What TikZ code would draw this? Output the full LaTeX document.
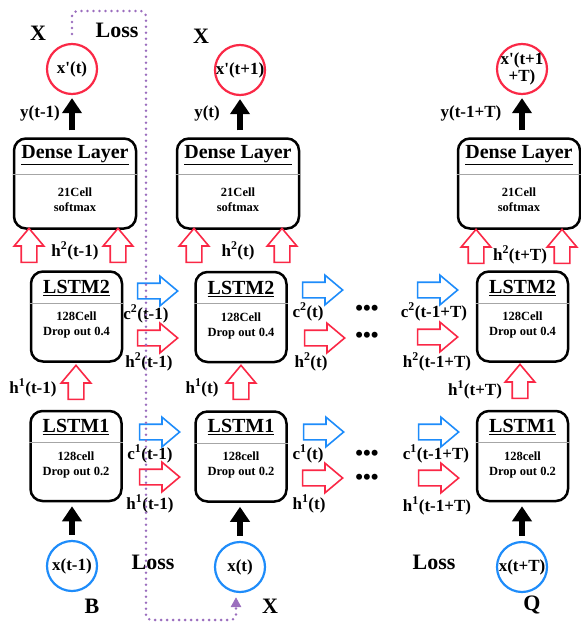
\documentclass[tikz,border=0pt]{standalone}
\usepackage{fontspec}
\setmainfont{Liberation Serif}
\usetikzlibrary{positioning}
\usetikzlibrary{arrows.meta}
\usetikzlibrary{calc}
\usetikzlibrary{shapes.arrows}

\definecolor{cellred}{RGB}{250,40,70}
\definecolor{cellblue}{RGB}{30,140,250}
\definecolor{losspurple}{RGB}{155,110,190}

\begin{document}
\begin{tikzpicture}[
        x=1pt, y=-1pt,
        every node/.style={font=\bfseries},
        layerbox/.style={draw, line width=2.5pt, rounded corners=12pt, minimum height=90pt},
        boxhead/.style={font=\bfseries\fontsize{20}{22}\selectfont},
        boxbody/.style={align=center, font=\bfseries\fontsize{12.5}{15}\selectfont},
        incirc/.style={circle, draw=cellblue, line width=2.2pt, minimum size=50pt, inner sep=-4pt, font=\bfseries\fontsize{17}{17}\selectfont},
        outcirc/.style={incirc, draw=cellred},
        flow/.style={single arrow, draw=#1, line width=1.6pt, fill=white, inner xsep=0pt, inner ysep=7pt,
            single arrow head extend=7pt, single arrow tip angle=80, minimum height=40pt},
        upflow/.style={flow=cellred, minimum height=34pt, rotate=90},
        feed/.style={line width=6pt, -{Triangle[width=19pt,length=15pt]}},
        flowlabel/.style={font=\bfseries\fontsize{17}{19}\selectfont},
        bigtag/.style={font=\bfseries\fontsize{22}{24}\selectfont},
        dotrow/.style={font=\bfseries\fontsize{22}{24}\selectfont},
        lossline/.style={losspurple, line width=2.8pt, line cap=round, dash pattern=on 0pt off 6pt,
            rounded corners=5pt, -{Triangle[width=10pt,length=10pt]}}
    ]

        \useasboundingbox (0,0) rectangle (581,624);

        % Dense layers
        \node[layerbox, minimum width=122pt] (dense1) at (75,183.5) {};
        \node[layerbox, minimum width=122pt] (dense2) at (238,183.5) {};
        \node[layerbox, minimum width=122pt] (dense3) at (519,183.5) {};
        \foreach \n in {1,2,3} {
            \draw[gray!70, line width=0.6pt] ($(dense\n.north west)+(0,37)$) -- ($(dense\n.north east)+(0,37)$);
            \node[boxhead] (dhead\n) at ($(dense\n.north)+(0,18)$) {\underline{Dense Layer}};
            \node[boxbody] (dbody\n) at ($(dense\n.north)+(0,62)$) {21Cell\\softmax};
        }

        % LSTM2
        \node[layerbox, minimum width=91pt] (lstm2a) at (76.5,316.5) {};
        \node[layerbox, minimum width=91pt] (lstm2b) at (241,317) {};
        \node[layerbox, minimum width=91pt] (lstm2c) at (522.5,316.5) {};
        \foreach \n in {a,b,c} {
            \draw[gray!70, line width=0.6pt] ($(lstm2\n.north west)+(0,33)$) -- ($(lstm2\n.north east)+(0,33)$);
            \node[boxhead] (l2head\n) at ($(lstm2\n.north)+(0,18)$) {\underline{LSTM2}};
            \node[boxbody] (l2body\n) at ($(lstm2\n.north)+(0,55)$) {128Cell\\Drop out 0.4};
        }

        % LSTM1
        \node[layerbox, minimum width=91pt] (lstm1a) at (76,456) {};
        \node[layerbox, minimum width=91pt] (lstm1b) at (241,456.5) {};
        \node[layerbox, minimum width=91pt] (lstm1c) at (522.5,456) {};
        \foreach \n in {a,b,c} {
            \draw[gray!70, line width=0.6pt] ($(lstm1\n.north west)+(0,33)$) -- ($(lstm1\n.north east)+(0,33)$);
            \node[boxhead] (l1head\n) at ($(lstm1\n.north)+(0,17)$) {\underline{LSTM1}};
            \node[boxbody] (l1body\n) at ($(lstm1\n.north)+(0,55)$) {128cell\\Drop out 0.2};
        }

        % Entradas y salidas
        \node[incirc] (in1) at (72,566) {x(t-1)};
        \node[incirc] (in2) at (240,567) {x(t)};
        \node[incirc] (in3) at (522,567) {x(t+T)};
        \node[outcirc] (out1) at (72,69) {x\textquotesingle(t)};
        \node[outcirc] (out2) at (240,70) {x\textquotesingle(t+1)};
        \node[outcirc, align=center] (out3) at (522,69) {x\textquotesingle(t+1\\+T)};

        \draw[feed, shorten <=5pt, shorten >=4pt] (in1.north) -- (in1.north |- lstm1a.south);
        \draw[feed, shorten <=5pt, shorten >=4pt] (in2.north) -- (in2.north |- lstm1b.south);
        \draw[feed, shorten <=5pt, shorten >=4pt] (in3.north) -- (in3.north |- lstm1c.south);
        \draw[feed, shorten <=7pt, shorten >=3pt] (out1.south |- dense1.north) -- (out1.south);
        \draw[feed, shorten <=7pt, shorten >=3pt] (out2.south |- dense2.north) -- (out2.south);
        \draw[feed, shorten <=7pt, shorten >=3pt] (out3.south |- dense3.north) -- (out3.south);

        % Flechas verticales
        \node[upflow] (up1a) at (76,387) {};
        \node[upflow] (up1b) at (241,387) {};
        \node[upflow] (up1c) at (520,386) {};
        \node[upflow] (up2al) at (29,250) {};
        \node[upflow] (up2ar) at (118,250) {};
        \node[upflow] (up2bl) at (194,250) {};
        \node[upflow] (up2br) at (282,250) {};
        \node[upflow] (up2cl) at (476,251) {};
        \node[upflow] (up2cr) at (562,251) {};

        % Flechas horizontales
        \node[flow=cellblue] (c2a) at (153,291) {};
        \node[flow=cellblue] (c2b) at (318,290) {};
        \node[flow=cellblue] (c2c) at (433,290) {};
        \node[flow=cellred] (h2a) at (153,338) {};
        \node[flow=cellred] (h2b) at (320,338) {};
        \node[flow=cellred] (h2c) at (433,337) {};
        \node[flow=cellblue] (c1a) at (155,432) {};
        \node[flow=cellblue] (c1b) at (319,432) {};
        \node[flow=cellblue] (c1c) at (434,432) {};
        \node[flow=cellred] (h1a) at (155,477) {};
        \node[flow=cellred] (h1b) at (318,478) {};
        \node[flow=cellred] (h1c) at (434,478) {};

        \node[dotrow] (dots2c) at (367,310) {•••};
        \node[dotrow] (dots2h) at (367,337) {•••};
        \node[dotrow] (dots1c) at (367,455) {•••};
        \node[dotrow] (dots1h) at (367,479) {•••};

        % Etiquetas
        \node[flowlabel] (ly1) at (40,113) {y(t-1)};
        \node[flowlabel] (ly2) at (207,113) {y(t)};
        \node[flowlabel] (ly3) at (471,113) {y(t-1+T)};
        \node[flowlabel] (lh2up1) at (75,251) {h\textsuperscript{2}(t-1)};
        \node[flowlabel] (lh2up2) at (238,251) {h\textsuperscript{2}(t)};
        \node[flowlabel] (lh2up3) at (520,255) {h\textsuperscript{2}(t+T)};
        \node[flowlabel] (lh1up1) at (33,388) {h\textsuperscript{1}(t-1)};
        \node[flowlabel] (lh1up2) at (202,388) {h\textsuperscript{1}(t)};
        \node[flowlabel] (lh1up3) at (475,390) {h\textsuperscript{1}(t+T)};
        \node[flowlabel] (lc2a) at (146,314) {c\textsuperscript{2}(t-1)};
        \node[flowlabel] (lc2b) at (308,312) {c\textsuperscript{2}(t)};
        \node[flowlabel] (lc2c) at (434,312) {c\textsuperscript{2}(t-1+T)};
        \node[flowlabel] (lh2a) at (149,362) {h\textsuperscript{2}(t-1)};
        \node[flowlabel] (lh2b) at (311,362) {h\textsuperscript{2}(t)};
        \node[flowlabel] (lh2c) at (437,362) {h\textsuperscript{2}(t-1+T)};
        \node[flowlabel] (lc1a) at (150,454) {c\textsuperscript{1}(t-1)};
        \node[flowlabel] (lc1b) at (308,454) {c\textsuperscript{1}(t)};
        \node[flowlabel] (lc1c) at (436,454) {c\textsuperscript{1}(t-1+T)};
        \node[flowlabel] (lh1a) at (150,504) {h\textsuperscript{1}(t-1)};
        \node[flowlabel] (lh1b) at (309,504) {h\textsuperscript{1}(t)};
        \node[flowlabel] (lh1c) at (437,506) {h\textsuperscript{1}(t-1+T)};

        \node[bigtag] (tagx1) at (38,33) {X};
        \node[bigtag] (loss1) at (117,30) {Loss};
        \node[bigtag] (tagx2) at (201,36) {X};
        \node[bigtag] (tagb) at (92,606) {B};
        \node[bigtag] (tagx3) at (270,606) {X};
        \node[bigtag] (loss2) at (153,562) {Loss};
        \node[bigtag] (loss3) at (434,562) {Loss};
        \node[bigtag] (tagq) at (532,605) {Q};

        % Perdida
        \coordinate (losstop) at (146,11);
        \coordinate (lossbot) at (146,620);
        \draw[lossline, shorten <=9pt, shorten >=4pt] (out1.north) |- (losstop) -- (lossbot) -| ([xshift=-4pt]in2.south);

    \end{tikzpicture}
\end{document}
